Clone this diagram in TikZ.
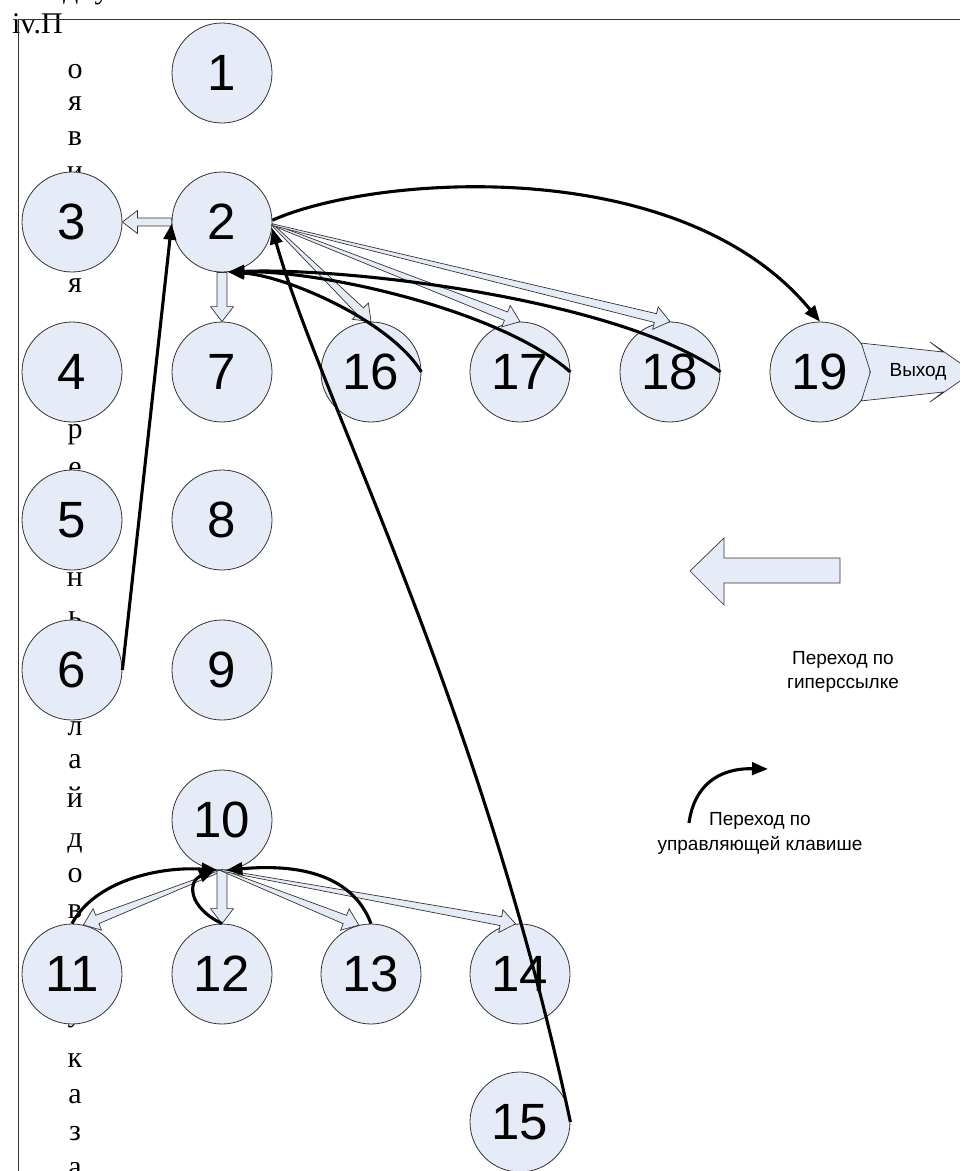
\documentclass[tikz,border=0pt]{standalone}
\usepackage{fontspec}
\setmainfont{Liberation Serif}
\newfontfamily\arialf{Liberation Sans}
\usetikzlibrary{calc,arrows.meta}
\definecolor{nodefill}{HTML}{E6ECF7}
\definecolor{edgegray}{HTML}{333333}
\tikzset{
  slide/.style={circle, draw=edgegray, line width=0.8pt, fill=nodefill,
    minimum size=100pt, inner sep=0pt, font=\arialf\fontsize{51}{51}\selectfont},
  hollow/.style={draw=edgegray, line width=0.7pt, fill=nodefill, line join=miter},
  ctrl/.style={draw=black, line width=3.1pt, -{Triangle[length=16pt,width=12.5pt]}},
  vchar/.style={anchor=base, inner sep=0pt, font=\fontsize{30}{30}\selectfont},
  legendtext/.style={anchor=base, inner sep=0pt, font=\arialf\fontsize{19}{19}\selectfont},
  frame/.style={draw=edgegray, line width=1pt}
}
\newcommand\harrow[4]{%
  \coordinate (hA) at (#1);
  \coordinate (hB) at (#2);
  \coordinate (hC) at ($(hB)!15pt!(hA)$);
  \draw[hollow] ($(hA)!#3!90:(hB)$) -- ($(hC)!#4!-90:(hA)$) -- ($(hC)!11.5pt!-90:(hA)$)
    -- (hB) -- ($(hC)!11.5pt!90:(hA)$) -- ($(hC)!#4!90:(hA)$) -- ($(hA)!#3!-90:(hB)$) -- cycle;}
\begin{document}
\begin{tikzpicture}[x=1pt,y=-1pt]
\useasboundingbox (0,0) rectangle (960,1171);
% vertical text column
\node[vchar, anchor=base west] (tfrag) at (63,-2) {дну};
\node[vchar, anchor=base west] (tiv) at (12,33) {iv.П};
\foreach \ch/\yy [count=\i] in {о/78, я/110, в/145, и/180, я/292, р/438, е/476, н/586, ь/625,
  л/735, а/768, й/807, д/847, о/882, в/918, у/1021, к/1067, а/1103, з/1140, а/1176}
  \node[vchar] (vc\i) at (75,\yy) {\ch};
% frame
\draw[frame] (960,19) -- (18,19) -- (18,1171);
% slides
\node[slide] (n1) at (222,73) {1};
\node[slide] (n2) at (222,222) {2};
\node[slide] (n3) at (72,222) {3};
\node[slide] (n4) at (72,372) {4};
\node[slide] (n7) at (222,372) {7};
\node[slide] (n16) at (371,372) {16};
\node[slide] (n17) at (520,372) {17};
\node[slide] (n18) at (670,372) {18};
\node[slide] (n19) at (820,372) {19};
\node[slide] (n5) at (72,520) {5};
\node[slide] (n8) at (222,520) {8};
\node[slide] (n6) at (72,670) {6};
\node[slide] (n9) at (222,670) {9};
\node[slide] (n10) at (222,820) {10};
\node[slide] (n11) at (72,974) {11};
\node[slide] (n12) at (222,974) {12};
\node[slide] (n13) at (371,974) {13};
\node[slide] (n14) at (520,974) {14};
\node[slide] (n15) at (520,1122) {15};
% hyperlink (hollow) arrows
\harrow{n2.west}{n3.east}{4pt}{4pt}
\harrow{n2.south}{n7.north}{5pt}{5pt}
\harrow{n2.-3}{n16.north}{0.8pt}{4.5pt}
\harrow{n2.-3}{n17.north}{0.8pt}{4.5pt}
\harrow{n2.-3}{n18.north}{0.8pt}{4.5pt}
\harrow{n10.south}{n11.77}{0.8pt}{4.5pt}
\harrow{n10.south}{n12.north}{5pt}{5pt}
\harrow{n10.south}{n13.104}{0.8pt}{4.5pt}
\harrow{n10.south}{n14.95}{0.8pt}{4.5pt}
% control-key (black) arrows
\draw[ctrl] (n6.east) -- (n2.182);
\draw[ctrl] (n16.east) .. controls +(-30,-50) and +(60,4) .. (n2.-83);
\draw[ctrl] (n17.east) .. controls +(-70,-62) and +(92,-2) .. (n2.-83);
\draw[ctrl] (n18.east) .. controls +(-100,-72) and +(122,-5) .. (n2.-83);
\draw[ctrl] (n15.east) .. controls +(-90,-422) and +(48,170) .. (n2.-7);
\draw[ctrl] (n2.2) .. controls +(100,-45) and +(-140,-170) .. (n19.north);
\draw[ctrl] (n11.north) .. controls +(23,-43) and +(-58,-4) .. (n10.-95);
\draw[ctrl] (n13.north) .. controls +(-20,-53) and +(64,-6) .. (n10.-85);
\draw[ctrl] (n12.north) .. controls +(-35,-17) and +(-27,11) .. (n10.-98);
% exit arrow
\draw[hollow] (n19.35) -- (943,352) -- (930,342) -- (973,372) -- (930,402) -- (943,392)
  -- (n19.-35) -- (n19.east) -- cycle;
\node[anchor=center, inner sep=0pt, font=\arialf\fontsize{19}{19}\selectfont] (exitlbl) at (918,372) {Выход};
% legend
\draw[hollow] (690,571) -- (724,538) -- (724,558) -- (840,558) -- (840,583) -- (724,583)
  -- (724,605) -- cycle;
\node[legendtext] (lg1a) at (843,664) {Переход по};
\node[legendtext] (lg1b) at (843,688) {гиперссылке};
\draw[ctrl] (689,823) .. controls (694,786) and (718,768) .. (768,769);
\node[legendtext] (lg2a) at (760,825) {Переход по};
\node[legendtext] (lg2b) at (760,850) {управляющей клавише};
\end{tikzpicture}
\end{document}
